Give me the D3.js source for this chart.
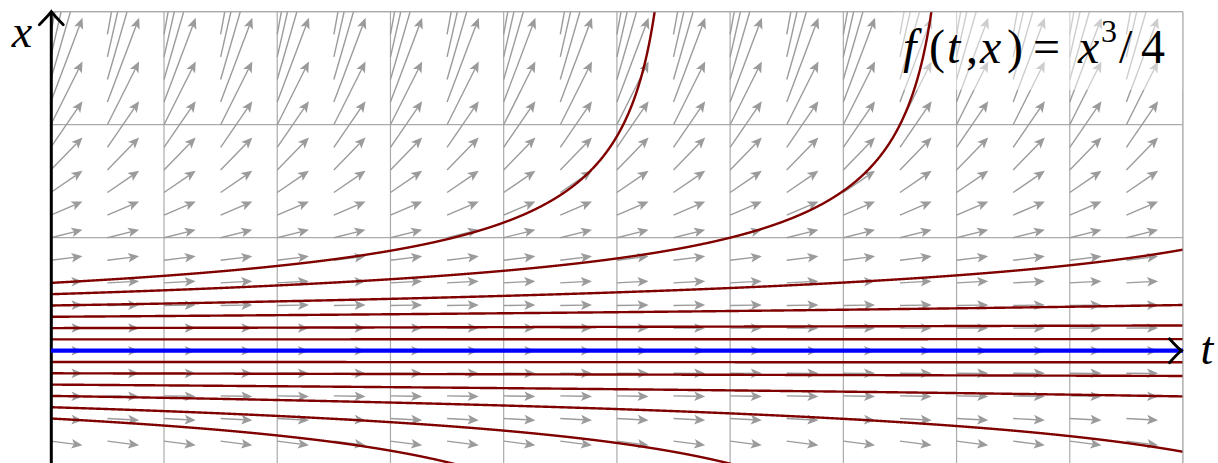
<!DOCTYPE html>
<html>
<head>
<meta charset="utf-8">
<script src="https://cdn.jsdelivr.net/npm/d3@7"></script>
<style>
  html, body { margin: 0; padding: 0; background: #fff; }
  svg { display: block; }
</style>
</head>
<body>
<svg id="chart" width="1218" height="463"></svg>
<script>
// ---- data ----
const gridT = [0, 1, 2, 3, 4, 5, 6, 7, 8, 9, 10];
const gridX = [-1, 0, 1, 2, 3];
const arrowT = [0, 0.5, 1, 1.5, 2, 2.5, 3, 3.5, 4, 4.5, 5, 5.5, 6, 6.5, 7, 7.5, 8, 8.5, 9, 9.5, 10];
const arrowX = [-1, -0.8, -0.6, -0.4, -0.2, 0, 0.2, 0.4, 0.6, 0.8, 1, 1.2, 1.4, 1.6, 1.8, 2, 2.2, 2.4, 2.6, 2.8, 3];
const redStarts = [-0.6, -0.5, -0.4, -0.3, -0.2, -0.1, 0.1, 0.2, 0.3, 0.4, 0.5, 0.6];
const blueStarts = [0];
const tDomain = [0, 10];
const xDomain = [-1, 3];
// label glyphs: [text, italic, superscript]
const labelGlyphs = [["f", 1, 0], ["(", 0, 0], ["t", 1, 0], [",", 0, 0], ["x", 1, 0], [")", 0, 0],
                     ["=", 0, 0], ["x", 1, 0], ["3", 0, 1], ["/", 0, 0], ["4", 0, 0]];

// slope function shown in the label: f(t,x) = x^3/4
const f = (t, x) => x * x * x / 4;
// solution of x' = x^3/4 through (0, x0)
const sol = (x0, t) => {
  const d = 1 - x0 * x0 * t / 2;
  return d > 0 ? x0 / Math.sqrt(d) : NaN;
};

// ---- layout ----
const svg = d3.select("#chart");
const tScale = d3.scaleLinear().domain(tDomain).range([50.8, 1183]);
const xScale = d3.scaleLinear().domain(xDomain).range([463.7, 11.7]);
const L = tScale(0), R = tScale(10), T = xScale(3), B = xScale(-1);

svg.append("defs").append("clipPath").attr("id", "clip")
  .append("rect").attr("x", L).attr("y", T).attr("width", R - L).attr("height", B - T);

const plot = svg.append("g").attr("clip-path", "url(#clip)");

// grid
const gridCol = "#ababab";
plot.append("g").selectAll("line.v").data(gridT).join("line")
  .attr("x1", d => tScale(d)).attr("x2", d => tScale(d))
  .attr("y1", T).attr("y2", B)
  .attr("stroke", gridCol).attr("stroke-width", 1.2);
plot.append("g").selectAll("line.h").data(gridX).join("line")
  .attr("x1", L).attr("x2", R)
  .attr("y1", d => xScale(d)).attr("y2", d => xScale(d))
  .attr("stroke", gridCol).attr("stroke-width", 1.2);

// slope-field arrows
const dt = 0.28;
const arrows = [];
arrowT.forEach(t => arrowX.forEach(x => arrows.push({t, x})));
const ag = plot.append("g");
const headL = 11, headW = 4.8, inset = 2.5;
arrows.forEach(a => {
  const x0 = tScale(a.t), y0 = xScale(a.x);
  const x1 = tScale(a.t + dt), y1 = xScale(a.x + dt * f(a.t, a.x));
  const len = Math.hypot(x1 - x0, y1 - y0);
  const ux = (x1 - x0) / len, uy = (y1 - y0) / len;
  const px = -uy, py = ux;
  const bx = x1 - ux * headL, by = y1 - uy * headL;
  ag.append("line")
    .attr("x1", x0).attr("y1", y0)
    .attr("x2", x1 - ux * (headL - inset)).attr("y2", y1 - uy * (headL - inset))
    .attr("stroke", "#9b9b9b").attr("stroke-width", 1.4);
  ag.append("path")
    .attr("d", `M${x1},${y1} L${bx + px * headW},${by + py * headW} L${x1 - ux * (headL - inset)},${y1 - uy * (headL - inset)} L${bx - px * headW},${by - py * headW} Z`)
    .attr("fill", "#9b9b9b");
});

// translucent label background
plot.append("rect")
  .attr("x", 893).attr("y", T).attr("width", R - 893).attr("height", 90 - T)
  .attr("fill", "#fff").attr("fill-opacity", 0.5);

// frame lines right/top
svg.append("line").attr("x1", R).attr("x2", R).attr("y1", T).attr("y2", B)
  .attr("stroke", gridCol).attr("stroke-width", 1.2);
svg.append("line").attr("x1", L).attr("x2", R).attr("y1", T).attr("y2", T)
  .attr("stroke", gridCol).attr("stroke-width", 1.2);

// solution curves
const line = d3.line().x(d => tScale(d[0])).y(d => xScale(d[1]));
function curvePoints(x0) {
  const pts = [];
  for (let i = 0; i <= 5000; i++) {
    const t = i * 0.002;
    const v = sol(x0, t);
    if (!isFinite(v)) break;
    pts.push([t, v]);
    if (Math.abs(v) > 4) break;
  }
  return pts;
}
plot.append("g").selectAll("path").data(redStarts).join("path")
  .attr("d", d => line(curvePoints(d)))
  .attr("fill", "none").attr("stroke", "#800000").attr("stroke-width", 2.4);

// axes
const axisG = svg.append("g");
axisG.append("line").attr("x1", L).attr("x2", R - 2).attr("y1", xScale(0)).attr("y2", xScale(0))
  .attr("stroke", "#000").attr("stroke-width", 2);
axisG.append("line").attr("x1", L + 0.5).attr("x2", L + 0.5).attr("y1", 463).attr("y2", T + 1)
  .attr("stroke", "#000").attr("stroke-width", 3);

// blue solution on top of the axis line
svg.append("g").attr("clip-path", "url(#clip)")
  .selectAll("path").data(blueStarts).join("path")
  .attr("d", d => line(curvePoints(d)))
  .attr("fill", "none").attr("stroke", "#0000ff").attr("stroke-width", 4.2);

// latex-style arrow tips
const ty = T, tx = L + 0.5;
axisG.append("path")
  .attr("d", `M${tx - 12},${ty + 13} Q${tx - 3},${ty + 4} ${tx},${ty} Q${tx + 3},${ty + 4} ${tx + 12},${ty + 13}`)
  .attr("fill", "none").attr("stroke", "#000").attr("stroke-width", 2.8).attr("stroke-linecap", "round");
const hx = R - 1.5, hy = xScale(0);
svg.append("path")
  .attr("d", `M${hx - 12},${hy - 12} Q${hx - 4},${hy - 3} ${hx},${hy} Q${hx - 4},${hy + 3} ${hx - 12},${hy + 12}`)
  .attr("fill", "none").attr("stroke", "#000").attr("stroke-width", 2.8).attr("stroke-linecap", "round");

// labels
const font = "'Liberation Serif', 'DejaVu Serif', serif";
svg.append("text").attr("x", 22).attr("y", 47).attr("text-anchor", "middle")
  .attr("font-family", font).attr("font-style", "italic").attr("font-size", 46).text("x");
svg.append("text").attr("x", 1207).attr("y", 364).attr("text-anchor", "middle")
  .attr("font-family", font).attr("font-style", "italic").attr("font-size", 46).text("t");

const glyphX = [903, 929, 947, 966, 980, 1007, 1033, 1078, 1101, 1119, 1141];
const lab = svg.append("text").attr("y", 63)
  .attr("font-family", font).attr("font-size", 48);
labelGlyphs.forEach((g, i) => {
  lab.append("tspan")
    .attr("x", glyphX[i])
    .attr("y", g[2] ? 42 : 63)
    .attr("font-size", g[2] ? 32 : 48)
    .attr("font-style", g[1] ? "italic" : "normal")
    .text(g[0]);
});
</script>
</body>
</html>
